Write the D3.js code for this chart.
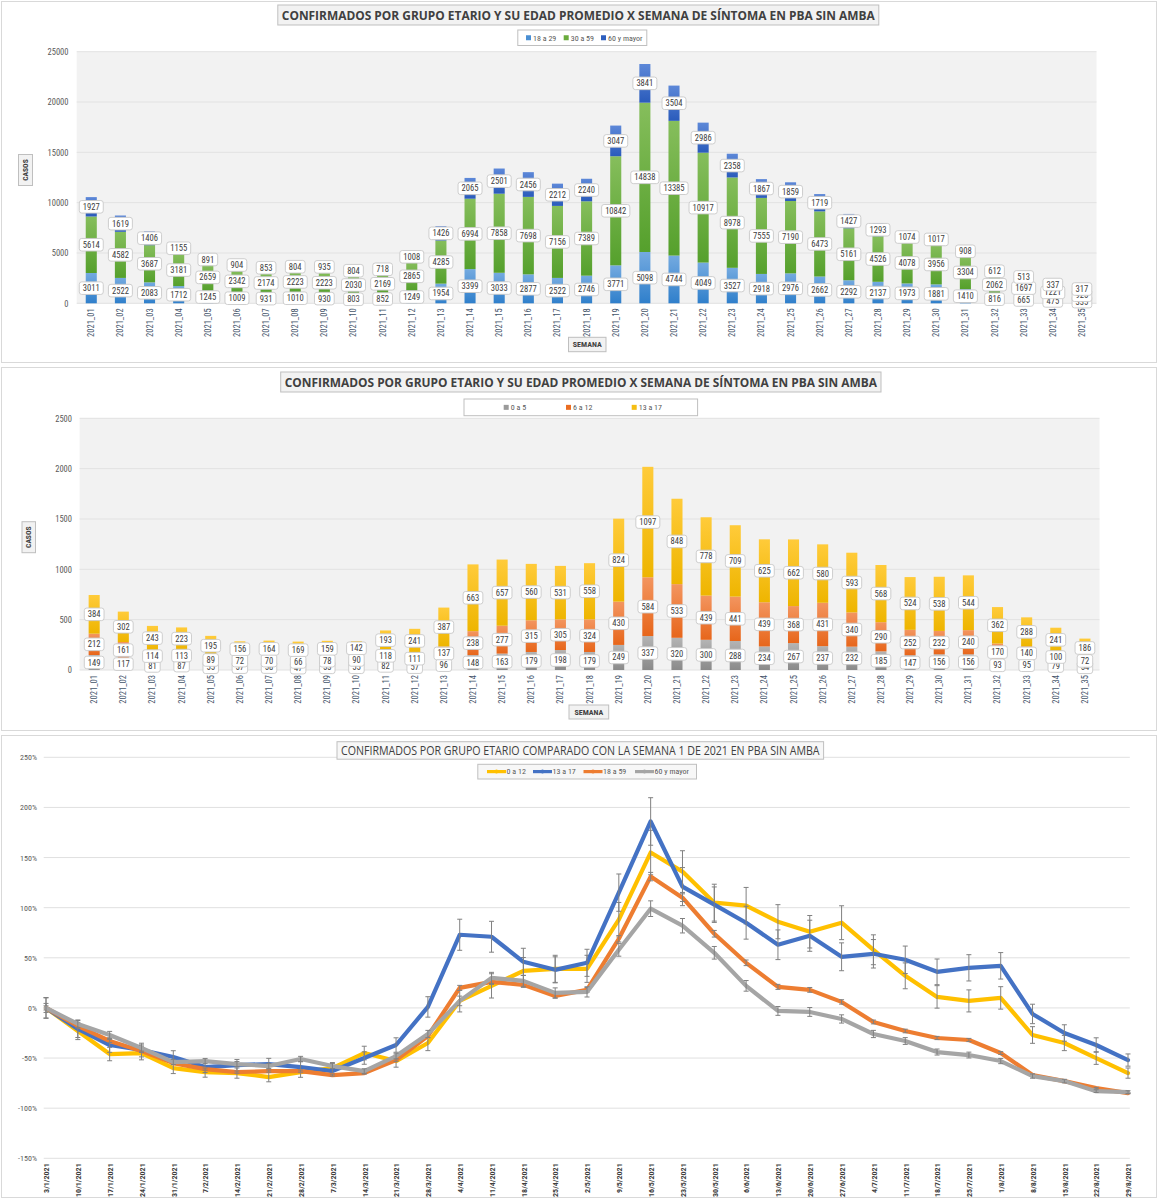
<!DOCTYPE html>
<html>
<head>
<meta charset="utf-8">
<script src="https://cdn.jsdelivr.net/npm/d3@7"></script>
<style>
  body { margin: 0; background: #fff; }
  svg { display: block; }
  text { font-family: "Liberation Sans Narrow", "Arial Narrow", "Roboto Condensed", "Liberation Sans", sans-serif; }
  .dl { font-size: 8.6px; fill: #404040; }
  .tick text { fill: #595959; }
</style>
</head>
<body>
<script>
// semanas (eje x de los dos graficos de barras)
const semanas = ["2021_01","2021_02","2021_03","2021_04","2021_05","2021_06","2021_07","2021_08","2021_09","2021_10",
  "2021_11","2021_12","2021_13","2021_14","2021_15","2021_16","2021_17","2021_18","2021_19","2021_20",
  "2021_21","2021_22","2021_23","2021_24","2021_25","2021_26","2021_27","2021_28","2021_29","2021_30",
  "2021_31","2021_32","2021_33","2021_34","2021_35"];
// fechas (eje x del grafico de lineas)
const fechas = ["3/1/2021","10/1/2021","17/1/2021","24/1/2021","31/1/2021","7/2/2021","14/2/2021","21/2/2021","28/2/2021","7/3/2021",
  "14/3/2021","21/3/2021","28/3/2021","4/4/2021","11/4/2021","18/4/2021","25/4/2021","2/5/2021","9/5/2021","16/5/2021",
  "23/5/2021","30/5/2021","6/6/2021","13/6/2021","20/6/2021","27/6/2021","4/7/2021","11/7/2021","18/7/2021","25/7/2021",
  "1/8/2021","8/8/2021","15/8/2021","22/8/2021","29/8/2021"];

// casos adultos
const g18a29 = [3011,2522,2083,1712,1245,1009,931,1010,930,803,852,1249,1954,3399,3033,2877,2522,2746,3771,5098,
  4744,4049,3527,2918,2976,2662,2292,2137,1973,1881,1410,816,665,475,335];
const g30a59 = [5614,4582,3687,3181,2659,2342,2174,2223,2223,2030,2169,2865,4285,6994,7858,7698,7156,7389,10842,14838,
  13385,10917,8978,7555,7190,6473,5161,4526,4078,3956,3304,2062,1697,1221,925];
const g60mas = [1927,1619,1406,1155,891,904,853,804,935,804,718,1008,1426,2065,2501,2456,2212,2240,3047,3841,
  3504,2986,2358,1867,1859,1719,1427,1293,1074,1017,908,612,513,337,317];

// casos menores
const g0a5 = [149,117,81,87,55,57,58,47,53,55,82,57,96,148,163,179,198,179,249,337,
  320,300,288,234,267,237,232,185,147,156,156,93,95,79,54];
const g6a12 = [212,161,114,113,89,72,70,66,78,90,118,111,137,238,277,315,305,324,430,584,
  533,439,441,439,368,431,340,290,252,232,240,170,140,100,72];
const g13a17 = [384,302,243,223,195,156,164,169,159,142,193,241,387,663,657,560,531,558,824,1097,
  848,778,709,625,662,580,593,568,524,538,544,362,288,241,186];

// variacion % contra semana 1
const pct0a12 = [0,-23,-46,-45,-60,-64,-65,-69,-64,-60,-45,-53,-35,7,22,37,39,39,88,155,
  136,105,102,86,76,85,58,32,11,7,10,-27,-35,-50,-65];
const pct13a17 = [0,-21,-37,-42,-49,-59,-57,-56,-59,-63,-50,-37,1,73,71,46,38,45,115,186,
  121,103,85,63,72,51,54,48,36,40,42,-6,-25,-37,-52];
const pct18a59 = [0,-18,-33,-43,-55,-61,-64,-63,-63,-67,-65,-52,-28,20,26,23,12,18,69,131,
  110,74,45,21,18,6,-14,-23,-30,-32,-45,-67,-73,-80,-85];
const pct60mas = [0,-16,-27,-40,-54,-53,-56,-58,-51,-58,-63,-48,-26,7,30,27,15,16,58,99,
  82,55,22,-3,-4,-11,-26,-33,-44,-47,-53,-68,-73,-83,-84];

// barras de error (+/- puntos %)
const err0a12 = [10.4,8.6,6.7,6.8,5.5,5.1,5.1,4.7,5.2,5.5,6.8,6.1,7.6,11,12.1,13.3,13.5,13.5,17.2,22.2,
  20.8,18.4,18.2,17,16.2,16.9,14.9,12.9,11.2,11,11.2,8.3,7.6,6.3,5.1];
const err13a17 = [10,8.5,7.3,6.8,6.3,5.4,5.6,5.7,5.5,5.1,6.2,7.2,10.2,15.5,15.4,13.5,13,13.5,18.6,23.7,
  19,17.7,16.4,14.8,15.5,13.9,14.2,13.7,12.8,13.1,13.2,9.7,8.2,7.2,6.1];
const err18a59 = [2.1,1.8,1.6,1.4,1.2,1.1,1.1,1.1,1.1,1,1,1.3,1.7,2.5,2.5,2.5,2.3,2.4,3.2,4.2,
  3.8,3.3,2.8,2.5,2.4,2.2,1.9,1.8,1.6,1.6,1.4,1,0.9,0.7,0.6];
const err60mas = [4.5,4,3.6,3.1,2.6,2.6,2.5,2.5,2.7,2.5,2.3,2.8,3.6,4.8,5.5,5.4,5,5.1,6.4,7.8,
  7.2,6.3,5.3,4.4,4.4,4.1,3.6,3.4,3,2.9,2.6,2.1,1.8,1.4,1.4];

const yTicks1 = [0,5000,10000,15000,20000,25000];
const yTicks2 = [0,500,1000,1500,2000,2500];
const yTicks3 = [-150,-100,-50,0,50,100,150,200,250];

const titulo1 = "CONFIRMADOS POR GRUPO ETARIO Y SU EDAD PROMEDIO X SEMANA DE SÍNTOMA EN PBA SIN AMBA";
const titulo3 = "CONFIRMADOS POR GRUPO ETARIO COMPARADO CON LA SEMANA 1 DE 2021 EN PBA SIN AMBA";

var svg = d3.select("body").append("svg")
  .attr("width", 1158)
  .attr("height", 1200);

var defs = svg.append("defs");

function grad(id, c1, c2) {
  var lg = defs.append("linearGradient").attr("id", id)
    .attr("x1", 0).attr("y1", 0).attr("x2", 0).attr("y2", 1);
  lg.append("stop").attr("offset", "0%").attr("stop-color", c1);
  lg.append("stop").attr("offset", "100%").attr("stop-color", c2);
}
grad("gA", "#74aae0", "#2f7fcb");
grad("gB", "#86be5c", "#55a02c");
grad("gC", "#5d88d8", "#2a5bbb");
grad("gD", "#b4b4b4", "#8a8a8a");
grad("gE", "#f3955f", "#e7661b");
grad("gF", "#ffcb3a", "#eeb500");

function boxText(g, x, y, w, h, txt, opts) {
  g.append("rect").attr("x", x).attr("y", y).attr("width", w).attr("height", h)
    .attr("fill", opts.fill || "#f2f2f2").attr("stroke", "#bfbfbf").attr("stroke-width", 1);
  var t = g.append("text")
    .attr("x", x + w / 2).attr("y", y + h / 2).attr("dy", "0.36em")
    .attr("text-anchor", "middle")
    .style("font-size", opts.size + "px")
    .style("font-weight", opts.bold ? "bold" : "normal")
    .style("fill", "#404040")
    .text(txt);
  if (opts.fit) t.attr("textLength", w - opts.fit).attr("lengthAdjust", "spacingAndGlyphs");
  if (opts.family) t.style("font-family", opts.family);
}

function dataLabel(g, cx, cy, txt) {
  var lg = g.append("g");
  var t = lg.append("text").attr("class", "dl")
    .attr("x", cx).attr("y", cy).attr("dy", "0.35em")
    .attr("text-anchor", "middle").text(txt);
  var w = t.node().getComputedTextLength();
  lg.insert("rect", "text")
    .attr("x", cx - w / 2 - 3.5).attr("y", cy - 6.3)
    .attr("width", w + 7).attr("height", 12.6)
    .attr("rx", 2.5)
    .attr("fill", "#fff").attr("stroke", "#c8c8c8").attr("stroke-width", 0.9);
}

function barPanel(o) {
  var g = svg.append("g");
  g.append("rect").attr("x", 1.5).attr("y", o.frame[0]).attr("width", 1155).attr("height", o.frame[1])
    .attr("fill", "#fff").attr("stroke", "#d9d9d9");

  boxText(g, o.tbox[0], o.tbox[1], o.tbox[2], o.tbox[3], titulo1, { size: 13, bold: true, fit: 8, family: "'Open Sans', sans-serif" });

  // leyenda
  g.append("rect").attr("x", o.leg[0]).attr("y", o.leg[1]).attr("width", o.leg[2]).attr("height", o.leg[3])
    .attr("fill", "#fff").attr("stroke", "#bfbfbf");
  var ly = o.leg[1] + o.leg[3] / 2;
  o.series.forEach(function (s) {
    g.append("rect").attr("x", s.lx).attr("y", ly - 2.5).attr("width", 5).attr("height", 5).attr("fill", s.color);
    g.append("text").attr("x", s.lx + 7).attr("y", ly).attr("dy", "0.35em")
      .style("font-size", "8px").style("fill", "#595959").text(s.name);
  });

  var px0 = o.plot[0], py0 = o.plot[1], px1 = o.plot[2], py1 = o.plot[3];
  g.append("rect").attr("x", px0).attr("y", py0).attr("width", px1 - px0).attr("height", py1 - py0).attr("fill", "#f2f2f2");

  var x = d3.scaleBand().domain(semanas).range([px0, px1]).paddingInner(0.62).paddingOuter(0.31);
  var y = d3.scaleLinear().domain([0, o.yTicks[o.yTicks.length - 1]]).range([py1, py0]);

  g.selectAll(".grid").data(o.yTicks).enter().append("line")
    .attr("x1", px0).attr("x2", px1)
    .attr("y1", function (d) { return y(d); }).attr("y2", function (d) { return y(d); })
    .attr("stroke", "#e2e2e2").attr("stroke-width", 1);

  var rows = semanas.map(function (s, i) {
    var r = { semana: s };
    o.series.forEach(function (se, k) { r["s" + k] = se.vals[i]; });
    return r;
  });
  var stack = d3.stack().keys(o.series.map(function (se, k) { return "s" + k; }))(rows);

  stack.forEach(function (layer, k) {
    g.selectAll(".bar" + k).data(layer).enter().append("rect")
      .attr("x", function (d) { return x(d.data.semana); })
      .attr("width", x.bandwidth())
      .attr("y", function (d) { return y(d[1]); })
      .attr("height", function (d) { return y(d[0]) - y(d[1]); })
      .attr("fill", "url(#" + o.series[k].grad + ")");
  });

  stack.forEach(function (layer, k) {
    layer.forEach(function (d) {
      dataLabel(g, x(d.data.semana) + x.bandwidth() / 2, y((d[0] + d[1]) / 2), d[1] - d[0]);
    });
  });

  var yAxis = d3.axisLeft(y).tickValues(o.yTicks).tickSize(0).tickPadding(0).tickFormat(d3.format("d"));
  g.append("g").attr("transform", "translate(" + o.yLabX + ",0)").call(yAxis)
    .call(function (a) { a.select(".domain").remove(); })
    .selectAll("text").style("font-size", "8.5px");

  var xAxis = d3.axisBottom(x).tickSize(0);
  g.append("g").attr("transform", "translate(0," + py1 + ")").call(xAxis)
    .call(function (a) { a.select(".domain").remove(); })
    .selectAll("text")
    .attr("transform", "rotate(-90)")
    .attr("x", -5).attr("y", 0).attr("dy", "0.35em")
    .attr("text-anchor", "end")
    .style("font-size", "8.5px").style("fill", "#44546a");

  // titulos de ejes
  var c = o.casos;
  g.append("rect").attr("x", c[0]).attr("y", c[1]).attr("width", c[2]).attr("height", c[3])
    .attr("fill", "#f2f2f2").attr("stroke", "#bfbfbf");
  g.append("text").attr("transform", "translate(" + (c[0] + c[2] / 2) + "," + (c[1] + c[3] / 2) + ") rotate(-90)")
    .attr("text-anchor", "middle").attr("dy", "0.35em")
    .style("font-size", "7.5px").style("font-weight", "bold").style("fill", "#404040").text("CASOS");
  boxText(g, o.semana[0], o.semana[1], o.semana[2], o.semana[3], "SEMANA", { size: 8, bold: true });
}

barPanel({
  frame: [1.5, 361],
  tbox: [277.8, 5, 601, 20],
  leg: [517.8, 30, 129, 15.5],
  plot: [76.7, 51.7, 1096.5, 303.3],
  yTicks: yTicks1,
  yLabX: 68.5,
  casos: [18.5, 154.5, 14, 31],
  semana: [568.5, 337.3, 37.5, 14.4],
  series: [
    { name: "18 a 29", vals: g18a29, grad: "gA", color: "#4a8fd3", lx: 526 },
    { name: "30 a 59", vals: g30a59, grad: "gB", color: "#6aab3c", lx: 563.7 },
    { name: "60 y mayor", vals: g60mas, grad: "gC", color: "#2e5fbf", lx: 601 }
  ]
});

barPanel({
  frame: [367.5, 363],
  tbox: [280.7, 372, 600.3, 20],
  leg: [464, 399, 233.6, 16.7],
  plot: [79.6, 418.3, 1099.5, 670],
  yTicks: yTicks2,
  yLabX: 72,
  casos: [22, 521.7, 13.5, 31],
  semana: [569, 705, 39.7, 14],
  series: [
    { name: "0 a 5", vals: g0a5, grad: "gD", color: "#9a9a9a", lx: 503.7 },
    { name: "6 a 12", vals: g6a12, grad: "gE", color: "#ea6d22", lx: 566 },
    { name: "13 a 17", vals: g13a17, grad: "gF", color: "#f5be12", lx: 631.7 }
  ]
});

// ---------- grafico de lineas ----------
var g3 = svg.append("g");
g3.append("rect").attr("x", 1.5).attr("y", 735.5).attr("width", 1155).attr("height", 462)
  .attr("fill", "#fff").attr("stroke", "#d9d9d9");

var x3 = d3.scalePoint().domain(fechas).range([46, 1128]);
var y3 = d3.scaleLinear().domain([-150, 250]).range([1158.3, 757.3]);

g3.selectAll(".grid3").data(yTicks3).enter().append("line")
  .attr("x1", 43.7).attr("x2", 1129.8)
  .attr("y1", function (d) { return y3(d); }).attr("y2", function (d) { return y3(d); })
  .attr("stroke", "#e0e0e0").attr("stroke-width", 1);

boxText(g3, 337, 741.7, 486.6, 17.5, titulo3, { size: 12, fit: 8, fill: "#f7f7f7", family: "'Open Sans', sans-serif" });

var lineas = [
  { name: "0 a 12", vals: pct0a12, err: err0a12, color: "#ffc000", lx: 487 },
  { name: "13 a 17", vals: pct13a17, err: err13a17, color: "#4472c4", lx: 533 },
  { name: "18 a 59", vals: pct18a59, err: err18a59, color: "#ed7d31", lx: 583.5 },
  { name: "60 y mayor", vals: pct60mas, err: err60mas, color: "#a5a5a5", lx: 635 }
];

var line = d3.line()
  .x(function (d, i) { return x3(fechas[i]); })
  .y(function (d) { return y3(d); });

lineas.forEach(function (s) {
  g3.append("path").datum(s.vals)
    .attr("d", line)
    .attr("fill", "none").attr("stroke", s.color).attr("stroke-width", 4.2)
    .attr("stroke-linejoin", "round").attr("stroke-linecap", "round");
  var eb = g3.append("g").attr("stroke", "#808080").attr("stroke-width", 1);
  s.vals.forEach(function (v, i) {
    var cx = x3(fechas[i]);
    var ya = y3(v + s.err[i]), yb = y3(v - s.err[i]);
    eb.append("line").attr("x1", cx).attr("x2", cx).attr("y1", ya).attr("y2", yb);
    eb.append("line").attr("x1", cx - 2.5).attr("x2", cx + 2.5).attr("y1", ya).attr("y2", ya);
    eb.append("line").attr("x1", cx - 2.5).attr("x2", cx + 2.5).attr("y1", yb).attr("y2", yb);
  });
});

var yAxis3 = d3.axisLeft(y3).tickValues(yTicks3).tickSize(0).tickPadding(0)
  .tickFormat(function (d) { return d + "%"; });
g3.append("g").attr("transform", "translate(37,0)").call(yAxis3)
  .call(function (a) { a.select(".domain").remove(); })
  .selectAll("text").style("font-size", "8px");

var xAxis3 = d3.axisBottom(x3).tickSize(0);
g3.append("g").attr("transform", "translate(0,1158.3)").call(xAxis3)
  .call(function (a) { a.select(".domain").remove(); })
  .selectAll("text")
  .attr("transform", "rotate(-90)")
  .attr("x", -5).attr("y", 0).attr("dy", "0.35em")
  .attr("text-anchor", "end")
  .style("font-size", "8px").style("font-weight", "bold").style("fill", "#404040");

// leyenda lineas
g3.append("rect").attr("x", 477.8).attr("y", 764.3).attr("width", 218.7).attr("height", 14.7)
  .attr("fill", "#f7f7f7").attr("stroke", "#bfbfbf");
lineas.forEach(function (s) {
  var ly = 771.6;
  g3.append("line").attr("x1", s.lx).attr("x2", s.lx + 19).attr("y1", ly).attr("y2", ly)
    .attr("stroke", s.color).attr("stroke-width", 3.2);
  g3.append("circle").attr("cx", s.lx + 9.5).attr("cy", ly).attr("r", 2).attr("fill", s.color);
  g3.append("text").attr("x", s.lx + 19.5).attr("y", ly).attr("dy", "0.35em")
    .style("font-size", "8px").style("fill", "#595959").text(s.name);
});
</script>
</body>
</html>
